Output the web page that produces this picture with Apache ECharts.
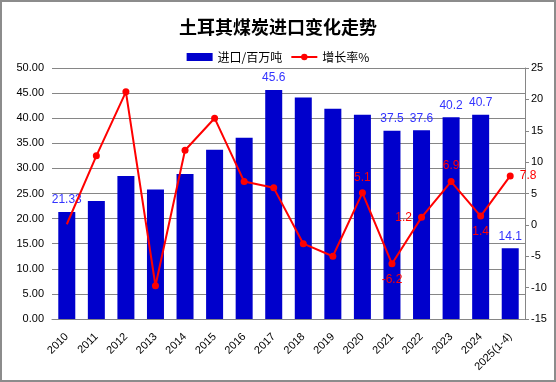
<!DOCTYPE html>
<html>
<head>
<meta charset="utf-8">
<script src="https://cdn.jsdelivr.net/npm/echarts@6/dist/echarts.min.js"></script>
<style>
html,body{margin:0;padding:0;background:#fff;}
#c{width:556px;height:382px;box-sizing:border-box;border:2px solid #8c8c8c;}
</style>
</head>
<body>
<div id="c"></div>
<script>
const categories = ['2010','2011','2012','2013','2014','2015','2016','2017','2018','2019','2020','2021','2022','2023','2024','2025(1-4)'];
const imports = [21.33,23.5,28.5,25.8,28.9,33.7,36.1,45.6,44.1,41.9,40.7,37.5,37.6,40.2,40.7,14.1];
const growth = [0.1,11.0,21.2,-9.7,11.9,17.0,6.9,5.9,-3.0,-5.0,5.1,-6.2,1.2,6.9,1.4,7.8];
const importLabelIdx = [0,7,11,12,13,14,15];
const growthLabelPos = {10:'top',11:'bottom',12:'left',13:'top',14:'bottom',15:'right'};
const leftTicks = {min:0,max:50,interval:5};
const rightTicks = {min:-15,max:25,interval:5};

const font = '"Liberation Sans","DejaVu Sans",sans-serif';
const chart = echarts.init(document.getElementById('c'), null, {renderer:'canvas'});

const barData = imports.map((v,i)=>({
  value:v,
  label:{show: importLabelIdx.includes(i)}
}));
const lineData = growth.map((v,i)=>{
  const d = {value:v};
  if (i===0) d.symbol='none';
  if (growthLabelPos[i]) d.label={show:true, position:growthLabelPos[i]};
  return d;
});

chart.setOption({
  animation:false,
  title:{
    text:'土耳其煤炭进口变化走势',
    left:'center', top:11,
    textStyle:{fontFamily:'"Noto Sans CJK SC"',fontSize:18,fontWeight:'bold',color:'#000'}
  },
  legend:{
    top:44, left:'center', itemGap:8,
    textStyle:{fontFamily:'"Noto Sans CJK SC"',fontSize:12,color:'#000'},
    data:[
      {name:'进口/百万吨', icon:'rect', itemStyle:{color:'#0000CC'}},
      {name:'增长率%'}
    ],
    itemWidth:26, itemHeight:8
  },
  grid:{left:50, right:29, top:66, bottom:61, containLabel:false},
  xAxis:{
    type:'category', data:categories,
    axisLine:{lineStyle:{color:'#868686',width:1}},
    axisTick:{show:false},
    axisLabel:{rotate:45, fontFamily:font, fontSize:11, color:'#000', interval:0, margin:16}
  },
  yAxis:[
    {type:'value', min:leftTicks.min, max:leftTicks.max, interval:leftTicks.interval,
     axisLine:{show:false}, axisTick:{show:false},
     splitLine:{lineStyle:{color:'#868686',width:1}},
     axisLabel:{formatter:v=>v.toFixed(2), fontFamily:font, fontSize:11, color:'#000', margin:8}
    },
    {type:'value', min:rightTicks.min, max:rightTicks.max, interval:rightTicks.interval,
     position:'right',
     axisLine:{show:true, lineStyle:{color:'#868686'}},
     axisTick:{show:true, length:4, lineStyle:{color:'#868686'}},
     splitLine:{show:false},
     axisLabel:{fontFamily:font, fontSize:11, color:'#000', margin:6}
    }
  ],
  series:[
    {name:'进口/百万吨', type:'bar', data:barData, barWidth:17,
     itemStyle:{color:'#0000CC'},
     label:{position:'top', color:'#3333FF', fontFamily:font, fontSize:12, distance:6}
    },
    {name:'增长率%', type:'line', yAxisIndex:1, data:lineData,
     symbol:'circle', symbolSize:7,
     lineStyle:{color:'#FF0000', width:2},
     itemStyle:{color:'#FF0000'},
     label:{show:false, color:'#FF0000', fontFamily:font, fontSize:12, distance:6}
    }
  ]
});
</script>
</body>
</html>
